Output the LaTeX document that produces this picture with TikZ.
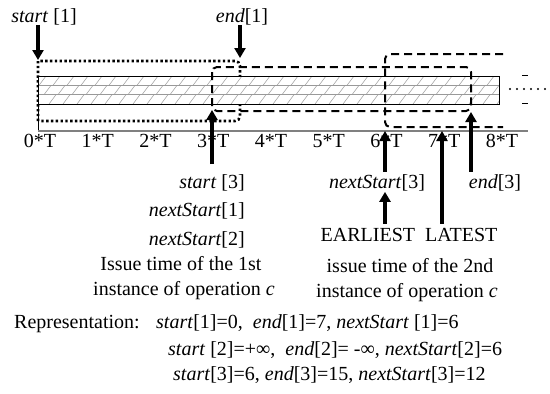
\documentclass[tikz,border=0pt]{standalone}
\usepackage{fontspec}
\setmainfont{Liberation Serif}
\usetikzlibrary{arrows.meta}
\begin{document}
\begin{tikzpicture}[x=1pt,y=-1pt,
  lbl/.style={inner sep=0pt, anchor=base, font=\fontsize{20}{24}\selectfont},
  arr/.style={line width=3.2pt, -{Triangle[width=11pt,length=10pt]}},
  dotbox/.style={line width=2.6pt, dash pattern=on 2.4pt off 2.4pt},
  dashbox/.style={line width=2pt, dash pattern=on 8pt off 5pt, rounded corners=5pt},
  hatch/.style={gray!80, line width=0.5pt},
]
\useasboundingbox (0,0) rectangle (550,394);

% instance 1 (dotted)
\draw[dotbox] (38,121) -- (38,61) [rounded corners=5pt] -- (240,61) -- (240,121) -- (38,121);

% hatched bar
\fill[white] (38,76) rectangle (499,104);
\begin{scope}
  \clip (38,76) rectangle (499,104);
  \foreach \r in {0,1,2}{
    \foreach \k in {0,...,33}{
      \draw[hatch] ({39+5*\r+14*\k},{76+9.333*(\r+1)}) -- ++(7,-9.333);
    }
  }
  \draw[hatch] (38,85.33) -- (499,85.33);
  \draw[hatch] (38,94.67) -- (499,94.67);
\end{scope}
\draw[line width=0.8pt] (38,76) rectangle (499,104);
\draw[line width=0.8pt] (38,104) -- (38,131);
\draw[gray, line width=1.2pt] (38,131) -- (528,131);

% continuation marks
\draw[line width=2.4pt, line cap=round, dash pattern=on 0pt off 7pt] (510,89) -- (549,89);
\draw[line width=0.8pt] (522,75) -- (528,75);
\draw[line width=0.8pt] (522,103) -- (528,103);

% instance 3 and next (dashed)
\draw[dashbox] (212,67) rectangle (471,111);
\draw[dashbox] (503,54) -- (385,54) -- (385,127) -- (503,127);

% tick labels
\foreach \k in {0,...,8}
  \node[lbl] (tick\k) at ({40+57.75*\k},147) {\k*T};

% top labels
\node[lbl] (s1) at (44,22) {\textit{start} [1]};
\node[lbl] (e1) at (242,22) {\textit{end}[1]};

% lower labels
\node[lbl, anchor=base east] (s3) at (245,188) {\textit{start} [3]};
\node[lbl, anchor=base east] (ns1) at (245,216) {\textit{nextStart}[1]};
\node[lbl, anchor=base east] (ns2) at (245,245) {\textit{nextStart}[2]};
\node[lbl] (iss1) at (181,270) {Issue time of the 1st};
\node[lbl] (inst1) at (184,295) {instance of operation \textit{c}};
\node[lbl] (ns3) at (377,188) {\textit{nextStart}[3]};
\node[lbl] (e3) at (495,188) {\textit{end}[3]};
\node[lbl] (el) at (409,241) {EARLIEST\ \ LATEST};
\node[lbl] (iss2) at (410,272) {issue time of the 2nd};
\node[lbl] (inst2) at (407,297) {instance of operation \textit{c}};

% representation
\node[lbl, anchor=base west] (rep) at (14,328) {Representation:};
\node[lbl, anchor=base west] (r1) at (156,328) {\textit{start}[1]=0,\ \ \textit{end}[1]=7, \textit{nextStart} [1]=6};
\node[lbl, anchor=base west] (r2) at (168,355) {\textit{start} [2]=+∞,\ \ \textit{end}[2]= -∞,\ \textit{nextStart}[2]=6};
\node[lbl, anchor=base west] (r3) at (173,380) {\textit{start}[3]=6, \textit{end}[3]=15, \textit{nextStart}[3]=12};

% arrow targets
\coordinate (p1) at (38,60);
\coordinate (p2) at (240,58);
\coordinate (t3) at (212,110);
\coordinate (t6) at (385,131);
\coordinate (t7) at (442,131);
\coordinate (t8) at (471,112);
\coordinate (b3) at (212,164);

% arrows
\draw[arr] (s1.south -| p1) -- (p1);
\draw[arr] (e1.south -| p2) -- (p2);
\draw[arr] (b3) -- (t3);
\draw[arr] ([yshift=2pt]ns3.north -| t6) -- (t6);
\draw[arr] ([yshift=4pt]el.north -| t7) -- (t7);
\draw[arr] ([yshift=2pt]e3.north -| t8) -- (t8);
\draw[arr] ([yshift=4pt]el.north -| t6) -- ([yshift=-1pt]ns3.south -| t6);
\end{tikzpicture}
\end{document}
